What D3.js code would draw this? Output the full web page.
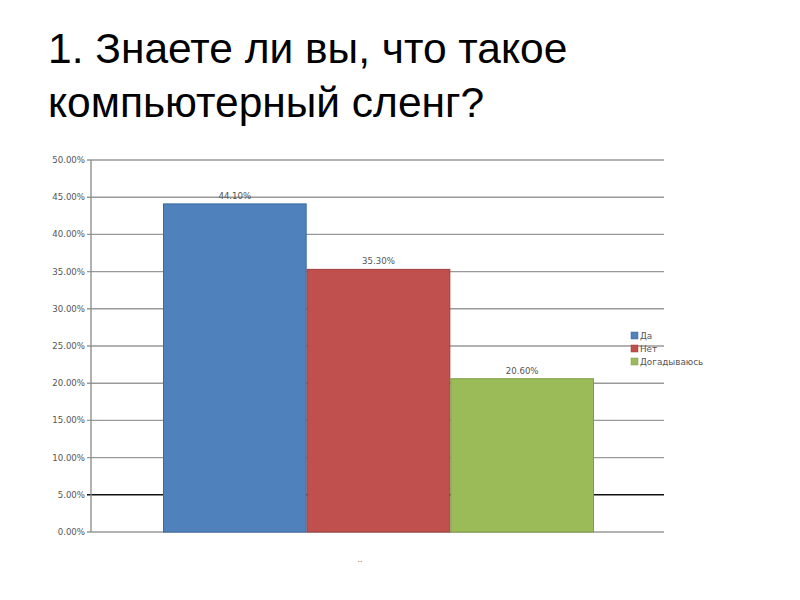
<!DOCTYPE html>
<html><head><meta charset="utf-8">
<script src="https://cdn.jsdelivr.net/npm/d3@7"></script>
<style>body{margin:0;background:#fff}svg{display:block}</style>
</head><body>
<svg id="c" width="800" height="600"></svg>
<script>
const titleLines = ["1. Знаете ли вы, что такое", "компьютерный сленг?"];
const categories = ["Да", "Нет", "Догадываюсь"];
const values = [44.1, 35.3, 20.6];
const colors = ["#4f81bd", "#c0504d", "#9bbb59"];
const borders = ["#3a6aa3", "#a03c3a", "#7f9d45"];
const ticks = [0, 5, 10, 15, 20, 25, 30, 35, 40, 45, 50];
const axisLabel = "..";

const svg = d3.select("#c");
svg.selectAll("text.title").data(titleLines).enter().append("text")
  .attr("x", 48).attr("y", (d, i) => 63 + i * 54)
  .attr("font-family", "Liberation Sans, Arial, sans-serif")
  .attr("font-size", 42.5).attr("fill", "#000").text(d => d);

const y = d3.scaleLinear().domain([0, 50]).range([532, 160]);
const x = d3.scaleBand().domain(categories).range([163, 594]).padding(0);

const g = svg.append("g");
g.selectAll("line.grid").data(ticks).enter().append("line")
  .attr("x1", 87).attr("x2", 664)
  .attr("y1", d => y(d)).attr("y2", d => y(d))
  .attr("stroke", d => d === 5 ? "#111" : "#999")
  .attr("stroke-width", d => d === 5 ? 1.6 : 1.4);

g.append("line").attr("x1", 91).attr("x2", 91).attr("y1", y(50)).attr("y2", y(0))
  .attr("stroke", "#888").attr("stroke-width", 1.3);

g.selectAll("text.tick").data(ticks).enter().append("text")
  .attr("x", 85).attr("y", d => y(d) + 3)
  .attr("text-anchor", "end").attr("font-family", "DejaVu Sans, sans-serif")
  .attr("font-size", 8.6).attr("fill", "#555")
  .text(d => d.toFixed(2) + "%");

g.selectAll("rect.bar").data(values).enter().append("rect")
  .attr("x", (d, i) => x(categories[i]) + 0.5)
  .attr("width", x.bandwidth() - 1)
  .attr("y", d => y(d))
  .attr("height", d => y(0) - y(d))
  .attr("fill", (d, i) => colors[i])
  .attr("stroke", (d, i) => borders[i]).attr("stroke-width", 1);

g.selectAll("text.val").data(values).enter().append("text")
  .attr("x", (d, i) => x(categories[i]) + x.bandwidth() / 2)
  .attr("y", d => y(d) - 5)
  .attr("text-anchor", "middle").attr("font-family", "DejaVu Sans, sans-serif")
  .attr("font-size", 8.6).attr("fill", "#555")
  .text(d => d.toFixed(2) + "%");

svg.append("text").attr("x", 360).attr("y", 562).attr("text-anchor", "middle")
  .attr("font-family", "DejaVu Sans, sans-serif").attr("font-size", 8).attr("fill", "#666")
  .text(axisLabel);

const leg = svg.append("g");
categories.forEach((c, i) => {
  leg.append("rect").attr("x", 631).attr("y", 332 + i * 13).attr("width", 7).attr("height", 7)
    .attr("fill", colors[i]).attr("stroke", borders[i]).attr("stroke-width", 0.5);
  leg.append("text").attr("x", 640).attr("y", 339 + i * 13)
    .attr("font-family", "DejaVu Sans, sans-serif").attr("font-size", 8.8).attr("fill", "#555")
    .text(c);
});
</script>
</body></html>
